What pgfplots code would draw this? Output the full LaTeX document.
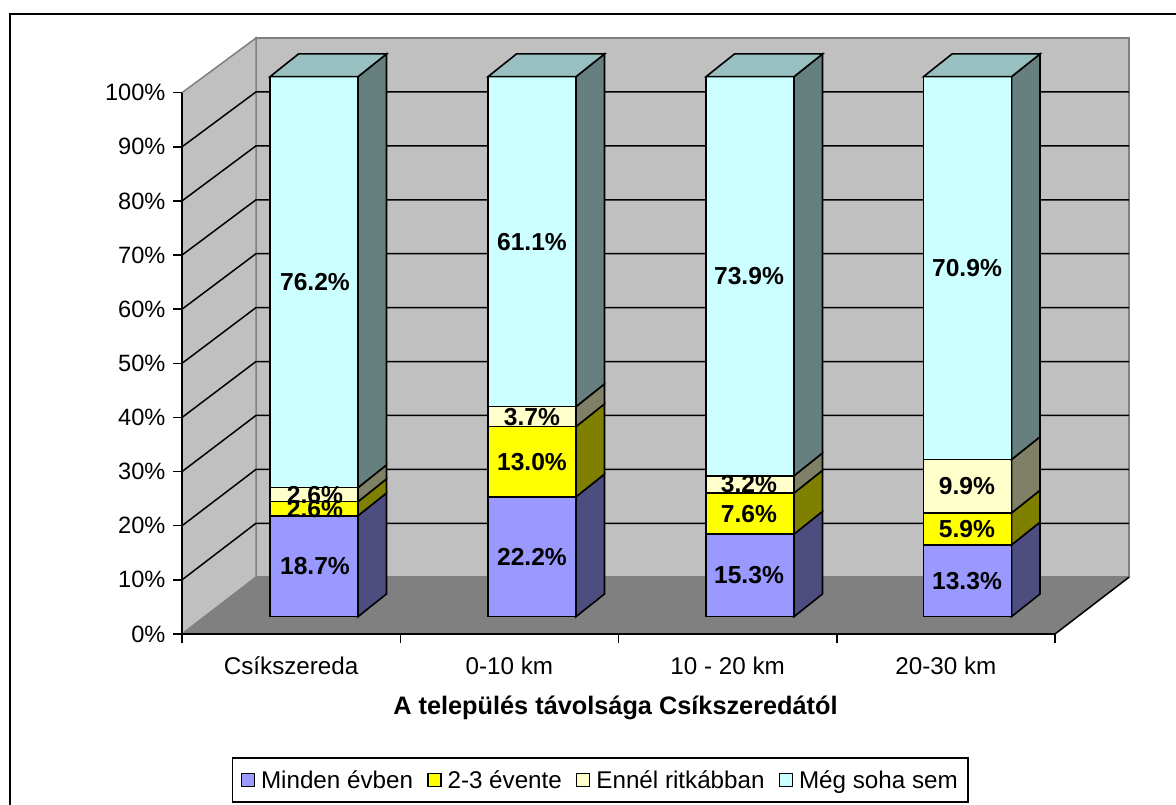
\documentclass[border=0pt]{standalone}
\usepackage{fontspec}
\setmainfont{Liberation Sans}
\usepackage{pgfplots}
\pgfplotsset{compat=1.18}
\definecolor{pur}{HTML}{9999FF}\definecolor{purs}{HTML}{4D4D80}
\definecolor{yel}{HTML}{FFFF00}\definecolor{yels}{HTML}{808000}
\definecolor{cre}{HTML}{FFFFCC}\definecolor{cres}{HTML}{808066}
\definecolor{cya}{HTML}{CCFFFF}\definecolor{cyas}{HTML}{668080}\definecolor{cyat}{HTML}{99C0C0}
\definecolor{wall}{HTML}{C0C0C0}\definecolor{flr}{HTML}{808080}
\newcommand\fs{\fontsize{24.2}{28}\selectfont}
\newcommand\fb{\fontsize{24.6}{28}\selectfont\bfseries}
% bar segment: left x, lower cum %, upper cum %, colour
\newcommand\seg[4]{%
 \pgfmathsetmacro\xa{#1}\pgfmathsetmacro\xb{#1+88}\pgfmathsetmacro\xc{#1+116.5}%
 \pgfmathsetmacro\ya{3.2+0.9976*#2}\pgfmathsetmacro\yb{3.2+0.9976*#3}%
 \pgfmathsetmacro\yc{\ya+4.2}\pgfmathsetmacro\yd{\yb+4.2}%
 \addplot[fill=#4s,draw=black,line width=1.6pt,forget plot] coordinates {(\xb,\ya)(\xc,\yc)(\xc,\yd)(\xb,\yb)} --cycle;
 \addplot[fill=#4,draw=black,line width=1.6pt,forget plot] coordinates {(\xa,\ya)(\xb,\ya)(\xb,\yb)(\xa,\yb)} --cycle;
}
\newcommand\tp[1]{%
 \pgfmathsetmacro\xa{#1}\pgfmathsetmacro\xb{#1+88}\pgfmathsetmacro\xc{#1+116.5}\pgfmathsetmacro\xd{#1+28.5}%
 \addplot[fill=cyat,draw=black,line width=1.6pt,forget plot] coordinates {(\xa,102.96)(\xb,102.96)(\xc,107.16)(\xd,107.16)} --cycle;
}
\newcommand\lab[4]{\node[font=\fb] at (axis cs:#1,{3.2+0.9976*(#2+#3)/2}) {#4\%};}
\newcommand\gl[1]{%
 \pgfmathsetmacro\yb{10.5+0.996*#1}%
 \addplot[black,line width=1.5pt,forget plot] coordinates {(182,#1)(256,\yb)(1129,\yb)};
}
\begin{document}
\begin{tikzpicture}
\useasboundingbox (0,0) rectangle (1176pt,-805pt);
\draw[black,line width=2.3pt] (10pt,-815pt) -- (10pt,-14pt) -- (1186pt,-14pt);
\begin{axis}[
 at={(182pt,-634pt)},anchor=origin,
 scale only axis,width=873pt,height=541.3pt,
 xmin=182,xmax=1055,ymin=0,ymax=100,
 clip=false,axis on top,
 axis x line*=bottom,axis y line*=left,
 axis line style={black,line width=1.5pt,-},
 tick style={black,line width=1.5pt},
 major tick length=9pt,tick align=outside,
 xtick={182,400.25,618.5,836.75,1055},
 x tick label as interval,
 xticklabels={Csíkszereda,0-10 km,10 - 20 km,20-30 km},
 ytick={0,10,...,100},
 yticklabels={0\%,10\%,20\%,30\%,40\%,50\%,60\%,70\%,80\%,90\%,100\%},
 x tick label style={font=\fs,yshift=-10pt},
 y tick label style={font=\fontsize{23.6}{28}\selectfont,xshift=-4pt},
 xlabel={A település távolsága Csíkszeredától},
 xlabel style={font=\fontsize{25.3}{28}\selectfont\bfseries,at={(axis description cs:0.4966,-0.137)},anchor=center},
 legend columns=-1,
 legend cell align=left,
 legend style={at={(0.479,-0.2697)},anchor=center,draw=black,line width=1.5pt,font=\fs,
   inner xsep=8pt,inner ysep=10.5pt,
   /tikz/every odd column/.append style={column sep=4pt},
   /tikz/every even column/.append style={column sep=12pt}},
 legend image code/.code={\draw[#1,draw=black,line width=1.5pt] (0pt,-6.5pt) rectangle (13pt,6.5pt);},
]
\addplot[fill=wall,draw=flr,line width=1.5pt,forget plot] coordinates {(256,10.5)(1129,10.5)(1129,110.1)(256,110.1)} --cycle;
\addplot[fill=wall,draw=flr,line width=1.5pt,forget plot] coordinates {(182,0)(256,10.5)(256,110.1)(182,100)} --cycle;
\addplot[fill=flr,draw=flr,line width=1pt,forget plot] coordinates {(182,0)(256,10.5)(1129,10.5)(1055,0)} --cycle;
\addplot[black,line width=1.5pt,forget plot] coordinates {(1055,0)(1129,10.5)};
\gl{10}\gl{20}\gl{30}\gl{40}\gl{50}\gl{60}\gl{70}\gl{80}\gl{90}
\seg{270}{0}{18.7}{pur}\seg{270}{18.7}{21.3}{yel}\seg{270}{21.3}{23.9}{cre}\seg{270}{23.9}{100}{cya}\tp{270}
\seg{488}{0}{22.2}{pur}\seg{488}{22.2}{35.2}{yel}\seg{488}{35.2}{38.9}{cre}\seg{488}{38.9}{100}{cya}\tp{488}
\seg{706}{0}{15.3}{pur}\seg{706}{15.3}{22.9}{yel}\seg{706}{22.9}{26.1}{cre}\seg{706}{26.1}{100}{cya}\tp{706}
\seg{923.5}{0}{13.3}{pur}\seg{923.5}{13.3}{19.2}{yel}\seg{923.5}{19.2}{29.1}{cre}\seg{923.5}{29.1}{100}{cya}\tp{923.5}
\lab{315}{0}{18.7}{18.7}\lab{315}{18.7}{21.3}{2.6}\lab{315}{21.3}{23.9}{2.6}\lab{315}{23.9}{100}{76.2}
\lab{532}{0}{22.2}{22.2}\lab{532}{22.2}{35.2}{13.0}\lab{532}{35.2}{38.9}{3.7}\lab{532}{38.9}{100}{61.1}
\lab{749}{0}{15.3}{15.3}\lab{749}{15.3}{22.9}{7.6}\lab{749}{22.9}{26.1}{3.2}\lab{749}{26.1}{100}{73.9}
\lab{967}{0}{13.3}{13.3}\lab{967}{13.3}{19.2}{5.9}\lab{967}{19.2}{29.1}{9.9}\lab{967}{29.1}{100}{70.9}
\addlegendimage{fill=pur}\addlegendentry{Minden évben}
\addlegendimage{fill=yel}\addlegendentry{2-3 évente}
\addlegendimage{fill=cre}\addlegendentry{Ennél ritkábban}
\addlegendimage{fill=cya}\addlegendentry{Még soha sem}
\end{axis}
\end{tikzpicture}
\end{document}
